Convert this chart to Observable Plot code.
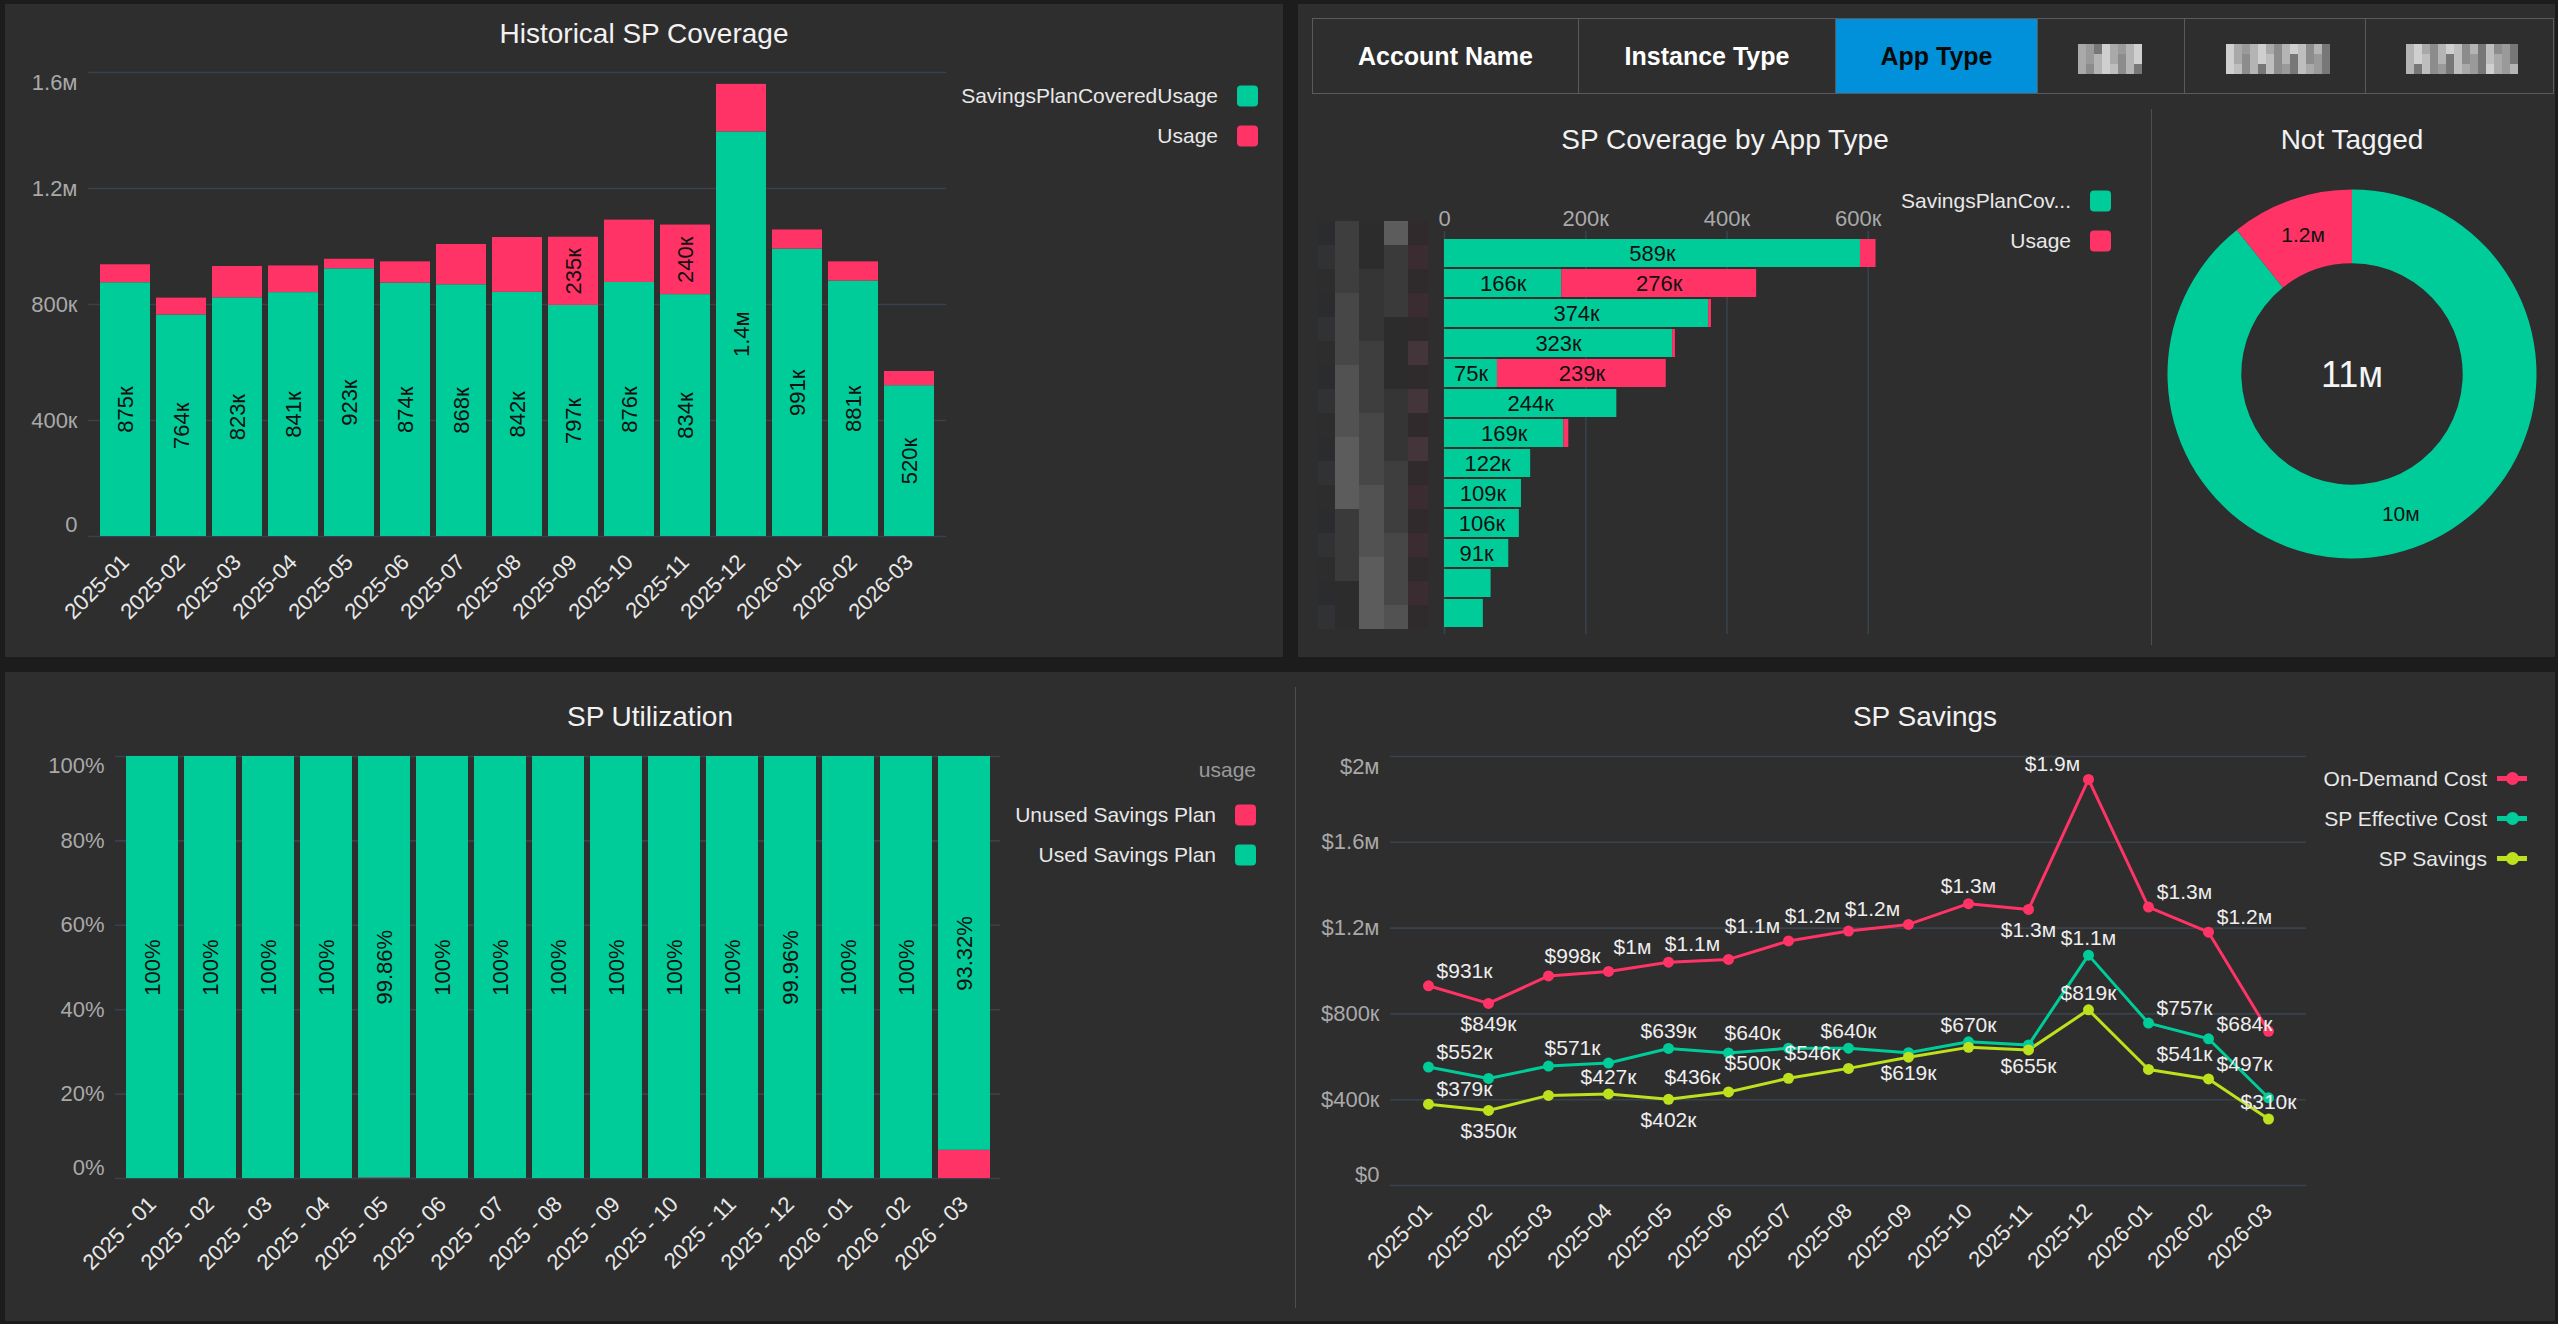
<!DOCTYPE html>
<html><head><meta charset="utf-8">
<script src="https://cdn.jsdelivr.net/npm/d3@7"></script>
<script src="https://cdn.jsdelivr.net/npm/@observablehq/plot@0.6"></script>
<style>
html,body{margin:0;padding:0;background:#1c1c1c;}
body{width:2558px;height:1324px;position:relative;overflow:hidden;font-family:"Liberation Sans",Arial,Helvetica,sans-serif;}
.panel{position:absolute;background:#2e2e2e;}
.title{position:absolute;color:#f2f2f2;font-size:28px;transform:translate(-50%,-50%);white-space:nowrap;}
.leg{position:absolute;color:#e8e8e8;font-size:21px;white-space:nowrap;transform:translate(-100%,-50%);}
.sw{position:absolute;width:21px;height:21px;border-radius:4px;transform:translateY(-50%);}
.plot{position:absolute;}
.plot svg{overflow:visible;}
.tab{position:absolute;top:18px;height:76px;box-sizing:border-box;border:1px solid #5a5a5a;color:#fff;font-weight:bold;font-size:25px;display:flex;align-items:center;justify-content:center;}
.line{position:absolute;background:#4f4f4f;width:1px;}
</style></head><body>
<script>
// ---------------- DATA ----------------
const months = ["2025-01","2025-02","2025-03","2025-04","2025-05","2025-06","2025-07","2025-08","2025-09","2025-10","2025-11","2025-12","2026-01","2026-02","2026-03"];

// Historical SP Coverage
const coverageSeries = ["SavingsPlanCoveredUsage", "Usage"];
const coveredUsage   = [875000, 764000, 823000, 841000, 923000, 874000, 868000, 842000, 797000, 876000, 834000, 1395000, 991000, 881000, 520000];
const uncoveredUsage = [62000, 58000, 108000, 92000, 33000, 73000, 139000, 189000, 235000, 215000, 240000, 164000, 66000, 66000, 49000];
const coverageTicks  = [0, 400000, 800000, 1200000, 1600000];

// SP Coverage by App Type (category names are redacted in the source)
const appTypes   = ["app-01","app-02","app-03","app-04","app-05","app-06","app-07","app-08","app-09","app-10","app-11","app-12","app-13"];
const appCovered = [589000, 166000, 374000, 323000, 75000, 244000, 169000, 122000, 109000, 106000, 91000, 66000, 55000];
const appUsage   = [22000, 276000, 4000, 4000, 239000, 0, 7000, 0, 0, 0, 0, 0, 0];
const appTicks   = [0, 200000, 400000, 600000];
const tabs = ["Account Name", "Instance Type", "App Type"];

// Not Tagged
const notTaggedValues = [9980000, 1200000];

// SP Utilization
const utilSeries = ["Unused Savings Plan", "Used Savings Plan"];
const unusedPct = [0, 0, 0, 0, 0.14, 0, 0, 0, 0, 0, 0, 0.04, 0, 0, 6.68];
const usedPct   = [100, 100, 100, 100, 99.86, 100, 100, 100, 100, 100, 100, 99.96, 100, 100, 93.32];
const utilTicks = [0, 20, 40, 60, 80, 100];

// SP Savings
const savingsSeries   = ["On-Demand Cost", "SP Effective Cost", "SP Savings"];
const onDemandCost    = [931000, 849000, 977000, 998000, 1041000, 1054000, 1140000, 1186000, 1217000, 1314000, 1287000, 1893000, 1298000, 1181000, 719000];
const spEffectiveCost = [552000, 499000, 557000, 571000, 639000, 618000, 640000, 640000, 619000, 670000, 655000, 1074000, 757000, 684000, 409000];
const spSavings       = [379000, 350000, 420000, 427000, 402000, 436000, 500000, 546000, 598000, 644000, 632000, 819000, 541000, 497000, 310000];
const savingsTicks    = [0, 400000, 800000, 1200000, 1600000, 2000000];
// label side per point: a = above, b = below, l = upper-left, r = upper-right, "" = hidden
const onDemandLabelSide  = ["r","b","","l","l","l","l","l","l","a","b","l","r","r",""];
const effectiveLabelSide = ["r","","","l","a","","l","a","b","a","b","a","r","r",""];
const savingsLabelSide   = ["r","b","","a","b","l","l","l","","","","a","r","r","a"];

// ---------------- STYLE ----------------
const GREEN = "#00cc99", RED = "#ff3366", LIME = "#bde11c";
const FONT = "'Liberation Sans', Arial, Helvetica, sans-serif";
const GRID = "#38424c", TICK = "#a9a9a9", LABEL = "#e8e8e8";
const baseStyle = {background: "transparent", fontFamily: FONT, fontSize: "22px", overflow: "visible", color: LABEL};

function fmtKM(v) {
  if (v === 0) return "0";
  if (Math.abs(v) >= 1e6) return (Math.round(v / 1e5) / 10) + "м";
  return Math.round(v / 1e3) + "к";
}
function fmt2(v) { return d3.format(".2~s")(v).replace("M", "м").replace("k", "к"); }

function el(tag, cls, css, text) {
  const d = document.createElement(tag);
  if (cls) d.className = cls;
  if (css) d.style.cssText = css;
  if (text != null) d.textContent = text;
  document.body.appendChild(d);
  return d;
}
function place(node, left, top) {
  const d = el("div", "plot", `left:${left}px;top:${top}px;`);
  d.appendChild(node);
}
function title(text, x, y) { el("div", "title", `left:${x}px;top:${y}px;`, text); }
function legendRow(textRight, y, label, color, swLeft, kind) {
  el("div", "leg", `left:${textRight}px;top:${y}px;`, label);
  if (kind === "line") {
    el("div", "", `position:absolute;left:${swLeft}px;top:${y - 2.5}px;width:30px;height:5px;background:${color};`);
    el("div", "", `position:absolute;left:${swLeft + 8.5}px;top:${y - 6.5}px;width:13px;height:13px;border-radius:50%;background:${color};`);
  } else {
    el("div", "sw", `left:${swLeft}px;top:${y}px;background:${color};`);
  }
}
function yAxis(ticks, fmt, topDy, botDy) {
  const lo = ticks[0], hi = ticks[ticks.length - 1];
  const o = {tickSize: 0, tickPadding: 11, tickFormat: fmt, color: TICK, fontSize: 22, label: null};
  return [
    Plot.axisY(ticks.filter(t => t !== lo && t !== hi), o),
    Plot.axisY([hi], {...o, dy: topDy}),
    Plot.axisY([lo], {...o, dy: botDy})
  ];
}
function mosaic(x, y, colWidths, rowH, nRows, palette, seed) {
  let cx = 0;
  colWidths.forEach((w, c) => {
    for (let r = 0; r < nRows; r++) {
      const k = (r * 5 + c * 3 + seed + ((r + c) % 3) * 2) % palette.length;
      el("div", "", `position:absolute;left:${x + cx}px;top:${y + r * rowH}px;width:${w}px;height:${rowH}px;background:${palette[k]};`);
    }
    cx += w;
  });
}

// ---------------- PANELS ----------------
el("div", "panel", "left:5px;top:4px;width:1278px;height:653px;");
el("div", "panel", "left:1298px;top:4px;width:1257px;height:653px;");
el("div", "panel", "left:5px;top:672px;width:1290px;height:649px;");
el("div", "panel", "left:1295px;top:672px;width:1260px;height:649px;");
el("div", "line", "left:1295px;top:687px;height:621px;");
el("div", "line", "left:2151px;top:109px;height:536px;");

// ---------------- CHART 1: Historical SP Coverage ----------------
title("Historical SP Coverage", 644, 34);
const covData = [];
months.forEach((m, i) => covData.push({month: m, series: coverageSeries[0], value: coveredUsage[i]}));
months.forEach((m, i) => covData.push({month: m, series: coverageSeries[1], value: uncoveredUsage[i]}));
const chart1 = Plot.plot({
  width: 960, height: 600, marginLeft: 88, marginRight: 14, marginTop: 32, marginBottom: 104,
  style: baseStyle,
  x: {domain: months, padding: 0.1},
  y: {domain: [0, 1600000]},
  color: {domain: coverageSeries, range: [GREEN, RED]},
  marks: [
    Plot.gridY(coverageTicks, {stroke: GRID, strokeOpacity: 1, strokeWidth: 1.6}),
    ...yAxis(coverageTicks, fmtKM, 10, -12),
    Plot.axisX({tickSize: 0, tickPadding: 22, tickRotate: -45, color: LABEL, fontSize: 22, label: null}),
    Plot.barY(covData, {x: "month", y: "value", fill: "series"}),
    Plot.text(covData, Plot.stackY({x: "month", y: "value", z: "series",
      text: d => (d.series === coverageSeries[0] || d.value >= 225000) ? fmtKM(d.value) : "",
      rotate: -90, fill: "#111", fontSize: 22}))
  ]
});
place(chart1, 0, 40);
legendRow(1218, 96, coverageSeries[0], GREEN, 1237);
legendRow(1218, 136, coverageSeries[1], RED, 1237);

// ---------------- TABS ----------------
const tabEdges = [1312, 1578, 1835, 2037, 2184, 2365, 2553];
for (let i = 0; i < 6; i++) {
  const t = el("div", "tab", `left:${tabEdges[i]}px;width:${tabEdges[i + 1] - tabEdges[i] + 1}px;`, tabs[i] || "");
  if (i === 2) { t.style.background = "#0091da"; t.style.color = "#0a0a0a"; }
}
const lightGrays = ["#8c8c8c", "#a9a9a9", "#bebebe", "#cfcfcf", "#777777", "#b4b4b4", "#9a9a9a"];
mosaic(2078, 44, Array(8).fill(8), 10, 3, lightGrays, 1);
mosaic(2226, 44, Array(13).fill(8), 10, 3, lightGrays, 3);
mosaic(2406, 44, Array(14).fill(8), 10, 3, lightGrays, 5);

// ---------------- CHART 2: SP Coverage by App Type ----------------
title("SP Coverage by App Type", 1725, 140);
const grays = ["#2c2c2c", "#353535", "#3e3e3e", "#474747", "#525252", "#5c5c5c", "#3a3a3a"];
mosaic(1318, 221, [17], 24, 17, ["#2a2c2e", "#303234", "#2d2d2d"], 0);
mosaic(1335, 221, [24, 25, 24], 24, 17, grays, 2);
mosaic(1408, 221, [20], 24, 17, ["#3a2c31", "#312a2d", "#43353a", "#2f2a2b"], 1);
const appData = [];
appTypes.forEach((a, i) => appData.push({app: a, series: coverageSeries[0], value: appCovered[i]}));
appTypes.forEach((a, i) => appData.push({app: a, series: coverageSeries[1], value: appUsage[i]}));
const chart2 = Plot.plot({
  width: 620, height: 470, marginLeft: 144, marginRight: 24, marginTop: 51, marginBottom: 16,
  style: baseStyle,
  x: {domain: [0, 640000]},
  y: {domain: appTypes, paddingInner: 0.07, paddingOuter: 0.15, axis: null},
  color: {domain: coverageSeries, range: [GREEN, RED]},
  marks: [
    Plot.gridX(appTicks, {stroke: GRID, strokeOpacity: 1, strokeWidth: 1.6}),
    Plot.axisX(appTicks.slice(0, -1), {anchor: "top", tickSize: 0, tickPadding: 6, tickFormat: fmtKM, color: TICK, fontSize: 22, label: null}),
    Plot.axisX(appTicks.slice(-1), {anchor: "top", tickSize: 0, tickPadding: 6, tickFormat: fmtKM, color: TICK, fontSize: 22, label: null, dx: -10}),
    Plot.barX(appData, {y: "app", x: "value", fill: "series"}),
    Plot.text(appData, Plot.stackX({y: "app", x: "value", z: "series",
      text: d => d.value >= 70000 ? fmtKM(d.value) : "", fill: "#111", fontSize: 22}))
  ]
});
place(chart2, 1300, 180);
legendRow(2071, 201, "SavingsPlanCov...", GREEN, 2090);
legendRow(2071, 241, coverageSeries[1], RED, 2090);

// ---------------- DONUT: Not Tagged ----------------
title("Not Tagged", 2352, 140);
const donutData = coverageSeries.map((s, i) => ({series: s, value: notTaggedValues[i]}));
const donutColors = [GREEN, RED];
function donutMark(index, scales, values, dimensions) {
  const {width, height} = dimensions;
  const outer = Math.min(width, height) / 2 - 15.5, inner = outer * 0.6;
  const g = d3.create("svg:g").attr("transform", `translate(${width / 2},${height / 2})`);
  const arcs = d3.pie().sort(null).value(d => d.value)(donutData);
  const arc = d3.arc().innerRadius(inner).outerRadius(outer);
  g.selectAll("path").data(arcs).join("path").attr("d", arc).attr("fill", (d, i) => donutColors[i]);
  g.selectAll("text.v").data(arcs).join("text").attr("class", "v")
    .attr("transform", d => `translate(${arc.centroid(d)})`)
    .attr("text-anchor", "middle").attr("dy", "0.35em")
    .attr("fill", "#111").attr("font-size", 21).text(d => fmt2(d.value));
  g.append("text").attr("text-anchor", "middle").attr("dy", "0.36em")
    .attr("fill", "#f5f5f5").attr("font-size", 36).text(fmt2(d3.sum(notTaggedValues)));
  return g.node();
}
const donut = Plot.plot({width: 400, height: 400, margin: 0, style: baseStyle, marks: [donutMark]});
place(donut, 2152, 174);

// ---------------- CHART 3: SP Utilization ----------------
title("SP Utilization", 650, 717);
const utilData = [];
months.forEach((m, i) => utilData.push({month: m, series: utilSeries[0], value: unusedPct[i]}));
months.forEach((m, i) => utilData.push({month: m, series: utilSeries[1], value: usedPct[i]}));
const chart3 = Plot.plot({
  width: 1010, height: 560, marginLeft: 115, marginRight: 10, marginTop: 36, marginBottom: 102,
  style: baseStyle,
  x: {domain: months, padding: 0.11},
  y: {domain: [0, 100]},
  color: {domain: utilSeries, range: [RED, GREEN]},
  marks: [
    Plot.gridY(utilTicks, {stroke: GRID, strokeOpacity: 1, strokeWidth: 1.6}),
    ...yAxis(utilTicks, d => d + "%", 9, -11),
    Plot.axisX({tickSize: 0, tickPadding: 22, tickRotate: -45, tickFormat: d => d.replace("-", " - "), color: LABEL, fontSize: 22, label: null}),
    Plot.barY(utilData, {x: "month", y: "value", fill: "series"}),
    Plot.text(utilData, Plot.stackY({x: "month", y: "value", z: "series",
      text: d => d.series === utilSeries[1] ? d.value + "%" : "", rotate: -90, fill: "#111", fontSize: 22}))
  ]
});
place(chart3, 0, 720);
el("div", "leg", "left:1256px;top:770px;color:#9a9a9a;", "usage");
legendRow(1216, 814.5, utilSeries[0], RED, 1234.5);
legendRow(1216, 855, utilSeries[1], GREEN, 1234.5);

// ---------------- CHART 4: SP Savings ----------------
title("SP Savings", 1925, 717);
const savData = [];
const seriesVals = [onDemandCost, spEffectiveCost, spSavings];
const seriesSides = [onDemandLabelSide, effectiveLabelSide, savingsLabelSide];
savingsSeries.forEach((s, k) => months.forEach((m, i) =>
  savData.push({series: s, month: m, value: seriesVals[k][i], side: seriesSides[k][i]})));
const sideOffsets = {a: [0, -17], b: [0, 21], l: [-36, -15], r: [36, -15]};
const chart4 = Plot.plot({
  width: 1020, height: 560, marginLeft: 90, marginRight: 14, marginTop: 36, marginBottom: 95,
  style: baseStyle,
  x: {type: "point", domain: months, padding: 0.58},
  y: {domain: [0, 2000000]},
  color: {domain: savingsSeries, range: [RED, GREEN, LIME]},
  marks: [
    Plot.gridY(savingsTicks, {stroke: GRID, strokeOpacity: 1, strokeWidth: 1.6}),
    ...yAxis(savingsTicks, d => "$" + fmtKM(d), 10, -11),
    Plot.axisX({tickSize: 0, tickPadding: 22, tickRotate: -45, color: LABEL, fontSize: 22, label: null}),
    Plot.line(savData, {x: "month", y: "value", z: "series", stroke: "series", strokeWidth: 3}),
    Plot.dot(savData, {x: "month", y: "value", fill: "series", r: 5.5}),
    ...Object.entries(sideOffsets).map(([k, [dx, dy]]) =>
      Plot.text(savData, {filter: d => d.side === k, x: "month", y: "value",
        text: d => "$" + fmtKM(d.value), dx, dy, fill: "#eeeeee", fontSize: 21}))
  ]
});
place(chart4, 1300, 720);
legendRow(2487, 778.6, savingsSeries[0], RED, 2497, "line");
legendRow(2487, 818.8, savingsSeries[1], GREEN, 2497, "line");
legendRow(2487, 858.6, savingsSeries[2], LIME, 2497, "line");
</script>
</body></html>
